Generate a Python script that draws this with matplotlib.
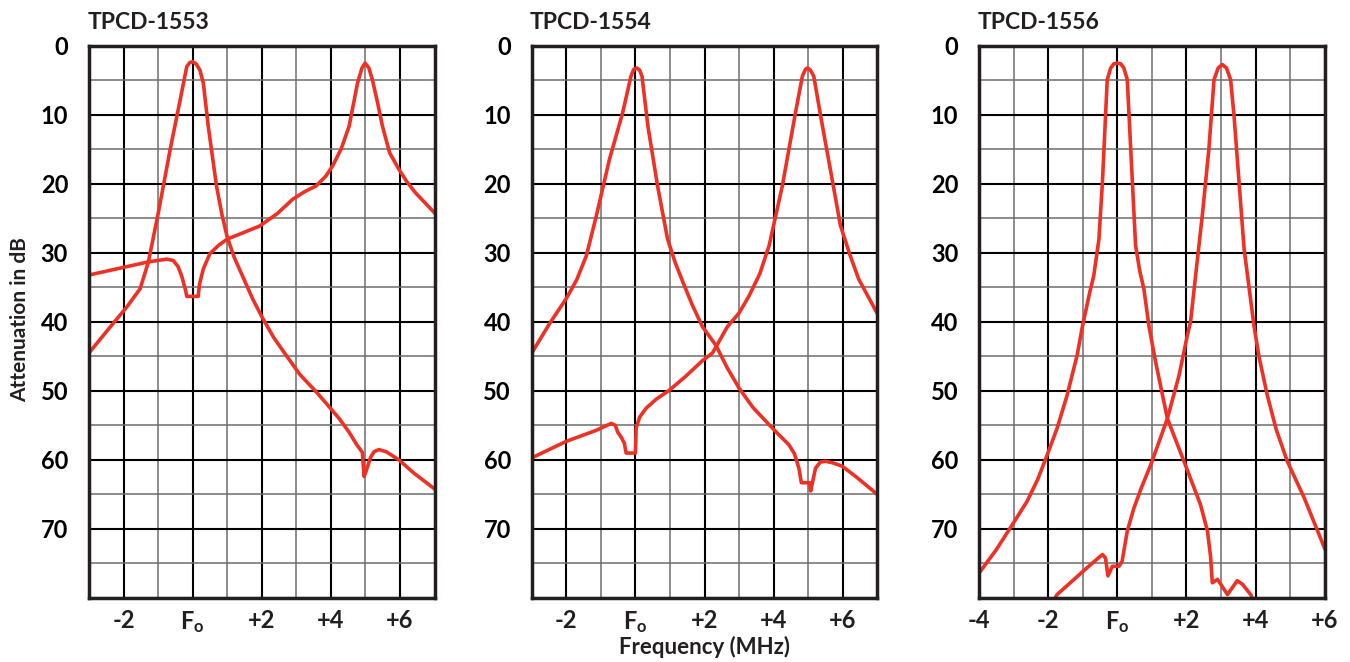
import matplotlib.pyplot as plt

plt.rcParams['font.family'] = ['Lato', 'DejaVu Sans']
plt.rcParams['mathtext.fontset'] = 'custom'
plt.rcParams['mathtext.rm'] = 'Lato'
plt.rcParams['mathtext.bf'] = 'Lato:bold'
plt.rcParams['mathtext.it'] = 'Lato:italic'

red = '#ee3124'
dark = '#231f20'

titles = ['TPCD-1553', 'TPCD-1554', 'TPCD-1556']

# TPCD-1553: passband at Fo
f1a = [-3.0, -2.38, -1.9, -1.52, -1.28, -0.99, -0.65, -0.36, -0.17, -0.08, 0.0, 0.1, 0.21, 0.31,
       0.45, 0.69, 0.85, 1.0, 1.2, 1.5, 1.75, 2.03, 2.35, 2.7, 3.1, 3.57, 3.9, 4.24, 4.53, 4.75,
       4.91, 4.96, 5.02, 5.15, 5.25, 5.39, 5.6, 5.97, 6.4, 7.0]
db1a = [44.5, 40.7, 37.8, 35.2, 31.3, 24.1, 15.0, 7.8, 3.0, 2.4, 2.3, 2.6, 3.5, 5.4,
        11.6, 20.3, 24.5, 27.7, 30.6, 34.0, 36.8, 39.5, 42.3, 44.8, 47.6, 50.1, 52.0, 54.0, 56.0, 57.8,
        58.9, 62.4, 61.6, 59.6, 58.8, 58.5, 58.8, 60.0, 61.9, 64.2]
# TPCD-1553: passband at +5
f1b = [-3.0, -1.28, -0.75, -0.56, -0.42, -0.32, -0.2, -0.17, 0.16, 0.2, 0.31, 0.5, 0.75, 1.0,
       1.45, 1.94, 2.45, 2.9, 3.25, 3.57, 3.85, 4.05, 4.3, 4.53, 4.77, 4.9, 4.99, 5.1, 5.2,
       5.35, 5.49, 5.7, 5.97, 6.2, 6.45, 7.0]
db1b = [33.2, 31.3, 30.9, 31.1, 32.0, 33.3, 35.5, 36.3, 36.3, 34.5, 32.3, 30.1, 28.9, 28.0,
        27.1, 26.1, 24.3, 22.2, 21.1, 20.3, 18.9, 17.4, 14.9, 11.6, 5.4, 3.2, 2.5, 3.2, 4.9,
        8.2, 11.6, 15.5, 17.9, 19.7, 21.3, 24.2]

# TPCD-1554: passband at Fo
f2a = [-3.0, -2.48, -2.0, -1.7, -1.42, -1.13, -0.75, -0.37, -0.13, -0.05, 0.04, 0.12, 0.19, 0.36,
       0.64, 0.93, 1.15, 1.37, 1.65, 1.94, 2.33, 2.65, 3.0, 3.4, 3.87, 4.2, 4.44, 4.6, 4.73, 4.8,
       5.04, 5.07, 5.21, 5.35, 5.5, 5.7, 5.98, 6.4, 7.0]
db2a = [44.5, 40.2, 36.6, 33.9, 30.4, 24.6, 16.4, 9.7, 4.4, 3.4, 3.2, 3.5, 4.4, 11.6,
        20.3, 28.0, 31.4, 34.2, 37.6, 40.7, 43.4, 46.6, 49.6, 52.4, 54.9, 56.6, 57.8, 59.1, 61.2, 63.3,
        63.3, 64.5, 61.2, 60.3, 60.2, 60.4, 60.9, 62.5, 65.0]
# TPCD-1554: passband at +5
f2b = [-3.0, -2.0, -1.13, -0.7, -0.58, -0.51, -0.4, -0.32, -0.27, 0.0, 0.02, 0.12, 0.31, 0.6,
       0.98, 1.45, 1.94, 2.23, 2.66, 3.0, 3.29, 3.6, 3.87, 4.25, 4.63, 4.83, 4.92, 4.98, 5.06,
       5.16, 5.36, 5.69, 5.93, 6.2, 6.46, 7.0]
db2b = [59.7, 57.3, 55.7, 54.7, 55.0, 56.0, 56.8, 57.6, 59.0, 59.0, 55.4, 53.8, 52.5, 51.2,
        49.9, 47.9, 45.6, 44.5, 40.7, 38.7, 36.2, 33.0, 28.9, 20.3, 9.7, 4.4, 3.4, 3.2, 3.5,
        4.4, 10.2, 19.3, 26.0, 30.2, 33.8, 38.8]

# TPCD-1556: passband at Fo
f3a = [-4.0, -3.5, -3.09, -2.61, -2.3, -2.03, -1.74, -1.45, -1.16, -1.01, -0.8, -0.68, -0.53,
       -0.43, -0.29, -0.19, -0.1, 0.0, 0.1, 0.19, 0.29, 0.39, 0.53, 0.65, 0.77, 0.92, 1.11,
       1.45, 1.93, 2.41, 2.61, 2.7, 2.75, 2.9, 3.19, 3.47, 3.62, 3.86, 4.0]
db3a = [76.4, 73.0, 69.8, 66.0, 62.8, 59.3, 55.4, 50.6, 44.8, 40.7, 35.8, 33.3, 28.0,
        19.8, 4.9, 3.2, 2.6, 2.5, 2.6, 3.2, 4.9, 15.0, 28.9, 32.6, 35.2, 40.7, 45.8,
        54.0, 60.2, 66.5, 70.3, 74.0, 77.8, 77.3, 79.5, 77.5, 78.0, 79.5, 81.0]
# TPCD-1556: passband at +3
f3b = [-1.9, -1.74, -0.87, -0.43, -0.34, -0.27, -0.14, 0.05, 0.14, 0.29, 0.48, 0.7, 0.97, 1.2,
       1.45, 1.79, 2.03, 2.12, 2.32, 2.46, 2.65, 2.8, 2.92, 3.04, 3.16, 3.28, 3.38, 3.67, 3.96,
       4.1, 4.34, 4.6, 4.92, 5.41, 6.0]
db3b = [80.8, 79.5, 75.6, 73.7, 74.2, 76.8, 75.4, 75.4, 74.7, 70.3, 67.0, 64.0, 60.7, 57.5,
        54.0, 47.7, 41.9, 40.0, 30.9, 24.6, 15.0, 4.9, 3.2, 2.7, 3.2, 4.9, 10.2, 29.4, 40.7,
        45.0, 50.6, 55.6, 60.2, 65.5, 72.8]

curves = [[(f1a, db1a), (f1b, db1b)],
          [(f2a, db2a), (f2b, db2b)],
          [(f3a, db3a), (f3b, db3b)]]
xranges = [(-3, 7), (-3, 7), (-4, 6)]

fig = plt.figure(figsize=(13.5, 6.62), dpi=100)
lefts = [0.0659, 0.3939, 0.7252]

for i in range(3):
    ax = fig.add_axes([lefts[i], 0.0967, 0.2560, 0.834])
    x0, x1 = xranges[i]
    for fx, dbx in curves[i]:
        ax.plot(fx, dbx, color=red, lw=2.6, solid_joinstyle='round', zorder=3)
    ax.set_xlim(x0, x1)
    ax.set_ylim(80, 0)

    if i == 2:
        major_x = [-4, -2, 0, 2, 4, 6]
    else:
        major_x = [-2, 0, 2, 4, 6]
    minor_x = [v for v in range(x0, x1 + 1) if v not in major_x]
    labels = []
    for v in major_x:
        if v == 0:
            labels.append(r'$\mathbf{F_o}$')
        elif v > 0:
            labels.append('+%d' % v)
        else:
            labels.append('%d' % v)
    ax.set_xticks(major_x)
    ax.set_xticklabels(labels)
    ax.set_xticks(minor_x, minor=True)
    ax.set_yticks(range(0, 81, 10))
    ax.set_yticklabels([str(v) for v in range(0, 71, 10)] + [''])
    ax.set_yticks(range(5, 80, 10), minor=True)

    ax.grid(which='major', color='black', lw=1.5, zorder=1)
    ax.grid(which='minor', color='#6d6d6d', lw=1.1, zorder=1)
    ax.tick_params(which='both', length=0)
    ax.tick_params(axis='y', pad=15, labelsize=17, labelcolor='black')
    ax.tick_params(axis='x', pad=8, labelsize=17, labelcolor=dark)
    for lab in ax.get_xticklabels() + ax.get_yticklabels():
        lab.set_fontweight('bold')
    for sp in ax.spines.values():
        sp.set_linewidth(2.5)
        sp.set_color(dark)
        sp.set_zorder(4)

    ax.set_title(titles[i], loc='left', x=-0.005, pad=12, fontsize=16.5,
                 fontweight='bold', color=dark)

fig.text(0.0148, 0.517, 'Attenuation in dB', rotation=90, ha='center', va='center',
         fontsize=15, fontweight='bold', color=dark)
fig.text(0.522, 0.022, 'Frequency (MHz)', ha='center', va='center',
         fontsize=16, fontweight='bold', color=dark)

fig.savefig('out.png', dpi=100)
